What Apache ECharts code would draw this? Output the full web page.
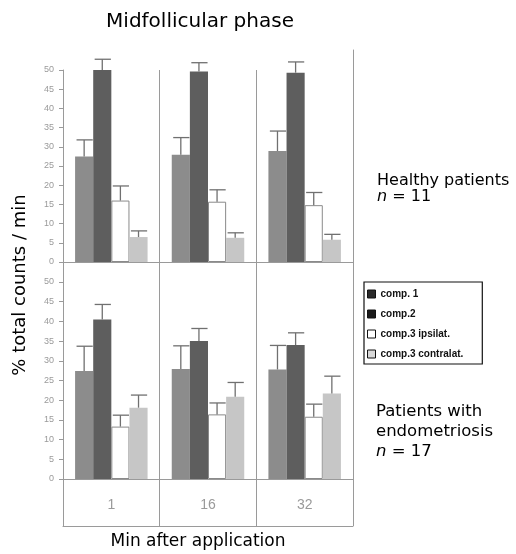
<!DOCTYPE html>
<html>
<head>
<meta charset="utf-8">
<script src="https://cdn.jsdelivr.net/npm/echarts@6/dist/echarts.min.js"></script>
<style>html,body{margin:0;padding:0;background:#fff}#c{width:516px;height:554px}</style>
</head>
<body>
<div id="c"></div>
<script>
// ---- data ----
const categories = ['1', '16', '32'];
const seriesNames = ['comp. 1', 'comp.2', 'comp.3 ipsilat.', 'comp.3 contralat.'];
const yTicks = [0, 50, 5]; // min, max, interval

// Healthy patients (n = 11)
const healthyComp1 = [27.5, 27.9, 28.9];
const healthyComp1Err = [31.8, 32.4, 34.1];
const healthyComp2 = [50.0, 49.6, 49.3];
const healthyComp2Err = [52.8, 51.9, 52.1];
const healthyIpsi = [16.0, 15.7, 14.8];
const healthyIpsiErr = [19.8, 18.8, 18.1];
const healthyContra = [6.5, 6.3, 5.8];
const healthyContraErr = [8.1, 7.6, 7.2];

// Patients with endometriosis (n = 17)
const endoComp1 = [27.4, 27.9, 27.8];
const endoComp1Err = [33.7, 33.8, 33.9];
const endoComp2 = [40.5, 35.0, 34.0];
const endoComp2Err = [44.3, 38.2, 37.1];
const endoIpsi = [13.3, 16.4, 15.8];
const endoIpsiErr = [16.2, 19.3, 19.0];
const endoContra = [18.1, 20.9, 21.7];
const endoContraErr = [21.3, 24.5, 26.1];

// ---- styling ----
const FONT = 'DejaVu Sans';
const GRAY = '#9a9a9a';
const barColors = ['#8c8c8c', '#5e5e5e', '#ffffff', '#c6c6c6'];
const legendColors = ['#2a2a2a', '#1a1a1a', '#ffffff', '#d8d8d8'];

const healthyVals = [healthyComp1, healthyComp2, healthyIpsi, healthyContra];
const healthyErrs = [healthyComp1Err, healthyComp2Err, healthyIpsiErr, healthyContraErr];
const endoVals = [endoComp1, endoComp2, endoIpsi, endoContra];
const endoErrs = [endoComp1Err, endoComp2Err, endoIpsiErr, endoContraErr];

const CAT_GAP = 0.25;

function errData(vals, errs) {
  const out = [];
  for (let s = 0; s < vals.length; s++)
    for (let i = 0; i < categories.length; i++)
      out.push([i, s, vals[s][i], errs[s][i]]);
  return out;
}

function renderErr(params, api) {
  const ci = api.value(0), si = api.value(1), v = api.value(2), e = api.value(3);
  const band = api.size([1, 0])[0];
  const bw = band * (1 - CAT_GAP) / 4;
  const base = api.coord([ci, v]);
  const top = api.coord([ci, e]);
  const x = base[0] - band * (1 - CAT_GAP) / 2 + bw * (si + 0.5);
  const cap = bw * 0.42;
  const st = { stroke: '#707070', lineWidth: 1.3 };
  return {
    type: 'group',
    children: [
      { type: 'line', shape: { x1: x, y1: base[1], x2: x, y2: top[1] }, style: st },
      { type: 'line', shape: { x1: x - cap, y1: top[1], x2: x + cap + 1, y2: top[1] }, style: st }
    ]
  };
}

function barSeries(vals, idx) {
  return vals.map((v, s) => ({
    type: 'bar',
    name: seriesNames[s],
    xAxisIndex: idx, yAxisIndex: idx,
    data: v,
    barGap: '0%',
    barCategoryGap: (CAT_GAP * 100) + '%',
    itemStyle: {
      color: barColors[s],
      borderColor: s === 2 ? '#8a8a8a' : barColors[s],
      borderWidth: s === 2 ? 1 : 0
    },
    silent: true
  }));
}

const L = 63, W = 290;
const catAxisBase = {
  type: 'category', data: categories,
  axisTick: { show: false }, axisLabel: { show: false },
  axisLine: { show: true, lineStyle: { color: GRAY, width: 1 } },
  splitLine: { show: true, lineStyle: { color: GRAY, width: 1 } }
};
const valAxisBase = {
  type: 'value', min: yTicks[0], max: yTicks[1], interval: yTicks[2],
  axisLine: { show: true, lineStyle: { color: GRAY, width: 1 } },
  axisTick: { show: true, length: 4, lineStyle: { color: GRAY } },
  axisLabel: { color: '#9a9a9a', fontSize: 9, fontFamily: 'Liberation Sans', margin: 9 },
  splitLine: { show: false }
};

const chart = echarts.init(document.getElementById('c'), null, { renderer: 'canvas' });
chart.setOption({
  animation: false,
  backgroundColor: '#fff',
  title: [
    { text: 'Midfollicular phase', left: 200, top: 12, textAlign: 'center', padding: 0,
      textStyle: { fontFamily: FONT, fontSize: 20, fontWeight: 'normal', color: '#000' } },
    { text: 'Healthy patients\n{i|n} = 11', left: 377, top: 173, padding: 0,
      textStyle: { fontFamily: FONT, fontSize: 16, fontWeight: 'normal', color: '#000', lineHeight: 16,
        rich: { i: { fontStyle: 'italic', fontFamily: FONT, fontSize: 16, lineHeight: 16 } } } },
    { text: 'Patients with\nendometriosis\n{i|n} = 17', left: 376, top: 402, padding: 0,
      textStyle: { fontFamily: FONT, fontSize: 16.5, fontWeight: 'normal', color: '#000', lineHeight: 20,
        rich: { i: { fontStyle: 'italic', fontFamily: FONT, fontSize: 16.5, lineHeight: 20 } } } },
    { text: 'Min after application', left: 198, top: 533, textAlign: 'center', padding: 0,
      textStyle: { fontFamily: FONT, fontSize: 17, fontWeight: 'normal', color: '#000' } }
  ],
  graphic: [
    { type: 'text', rotation: Math.PI / 2, x: 20, y: 285,
      style: { text: '% total counts / min', fontFamily: FONT, fontSize: 18, fill: '#000',
        textAlign: 'center', textVerticalAlign: 'middle' } }
  ],
  legend: {
    orient: 'vertical', left: 364, top: 282,
    padding: [7, 19, 5, 3], itemGap: 10, itemWidth: 8, itemHeight: 8,
    borderColor: '#111', borderWidth: 1.2, backgroundColor: '#fff',
    selectedMode: false,
    textStyle: { fontFamily: 'Liberation Sans', fontWeight: 'bold', fontSize: 10, lineHeight: 8, color: '#111' },
    data: seriesNames.map((n, i) => ({
      name: n, icon: 'rect',
      itemStyle: { color: legendColors[i], borderColor: '#111', borderWidth: 1 }
    }))
  },
  grid: [
    { left: L, width: W, top: 70, height: 192 },   // healthy panel
    { left: L, width: W, top: 282, height: 197 },  // endometriosis panel
    { left: L, width: W, top: 479, height: 47 },   // category label box
    { left: L, width: W, top: 262, height: 20 },   // divider connector between panels
    { left: L, width: W, top: 50, height: 20 }     // right frame extension
  ],
  xAxis: [
    Object.assign({}, catAxisBase, { gridIndex: 0 }),
    Object.assign({}, catAxisBase, { gridIndex: 1 }),
    Object.assign({}, catAxisBase, { gridIndex: 2,
      axisLabel: { show: true, inside: true, margin: 14, color: '#9a9a9a', fontSize: 14, fontFamily: 'Liberation Sans' } }),
    Object.assign({}, catAxisBase, { gridIndex: 3, axisLine: { show: false } }),
    { type: 'category', data: categories, gridIndex: 4, show: false }
  ],
  yAxis: [
    Object.assign({}, valAxisBase, { gridIndex: 0 }),
    Object.assign({}, valAxisBase, { gridIndex: 1 }),
    { type: 'value', gridIndex: 2, show: false },
    { type: 'value', gridIndex: 3, show: false },
    { type: 'value', gridIndex: 4, position: 'right', axisLine: { show: true, lineStyle: { color: GRAY } },
      axisTick: { show: false }, axisLabel: { show: false }, splitLine: { show: false } }
  ],
  series: [
    ...barSeries(healthyVals, 0),
    ...barSeries(endoVals, 1),
    { type: 'custom', name: 'err-healthy', xAxisIndex: 0, yAxisIndex: 0, clip: false, z: 5,
      renderItem: renderErr, encode: { x: 0, y: 3 }, data: errData(healthyVals, healthyErrs), silent: true },
    { type: 'custom', name: 'err-endo', xAxisIndex: 1, yAxisIndex: 1, clip: false, z: 5,
      renderItem: renderErr, encode: { x: 0, y: 3 }, data: errData(endoVals, endoErrs), silent: true }
  ]
});
</script>
</body>
</html>
